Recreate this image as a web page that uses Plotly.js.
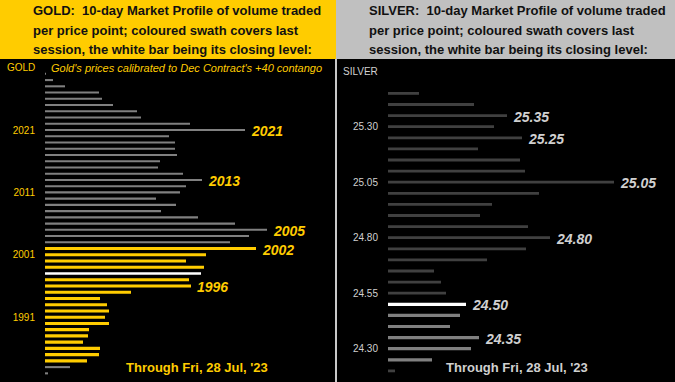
<!DOCTYPE html>
<html>
<head>
<meta charset="utf-8">
<script src="https://cdn.plot.ly/plotly-3.0.1.min.js"></script>
<style>html,body{margin:0;padding:0;background:#000;}#chart{width:675px;height:382px;}</style>
</head>
<body>
<div id="chart"></div>
<script>
// ---------- DATA ----------
const goldPrices = [2030,2029,2028,2027,2026,2025,2024,2023,2022,2021,2020,2019,2018,2017,2016,2015,2014,2013,2012,2011,2010,2009,2008,2007,2006,2005,2004,2003,2002,2001,2000,1999,1998,1997,1996,1995,1994,1993,1992,1991,1990,1989,1988,1987,1986,1985,1984,1983,1982];
const goldVolume = [1,8,20,54,57,68,92,96,145,200,124,130,130,132,115,113,138,157,141,135,111,131,116,153,190,222,204,185,211,161,141,159,156,144,146,86,55,62,64,60,64,44,43,38,55,54,42,25,3];
const goldSessionLow = 1984, goldSessionHigh = 2002, goldClose = 1998;
const goldLabelled = [2021,2013,2005,2002,1996];
const goldTicks = [1991,2001,2011,2021];

const silverPrices = [25.45,25.40,25.35,25.30,25.25,25.20,25.15,25.10,25.05,25.00,24.95,24.90,24.85,24.80,24.75,24.70,24.65,24.60,24.55,24.50,24.45,24.40,24.35,24.30,24.25,24.20];
const silverVolume = [31,86,119,106,134,90,132,137,226,151,104,92,140,162,138,99,46,53,58,78,72,62,91,83,44,7];
const silverSessionLow = 24.25, silverSessionHigh = 24.50, silverClose = 24.50;
const silverLabelled = [25.35,25.25,25.05,24.80,24.50,24.35];
const silverTicks = [24.30,24.55,24.80,25.05,25.30];

const goldTitle = ["GOLD:  10-day Market Profile of volume traded","per price point; coloured swath covers last","session, the white bar being its closing level:"];
const silverTitle = ["SILVER:  10-day Market Profile of volume traded","per price point; coloured swath covers last","session, the white bar being its closing level:"];
const goldNote = "Gold's prices calibrated to Dec Contract's +40 contango";
const throughText = "Through Fri, 28 Jul, '23";

// ---------- STYLE ----------
const W = 675, H = 382;
const px = x => x / W, py = y => 1 - y / H;
const YEL = '#FFCC00', GRY = '#C0C0C0', SIL_TXT = '#D0D0D0';
const near = (a, b) => Math.abs(a - b) < 1e-6;
const FONT = 'Arial, Liberation Sans, sans-serif';

const goldColors = goldPrices.map(p => near(p, goldClose) ? '#FFFFFF' : (p >= goldSessionLow && p <= goldSessionHigh ? YEL : '#808080'));
const goldWidths = goldPrices.map(p => near(p, goldClose) ? 0.4 : (p >= goldSessionLow && p <= goldSessionHigh ? 0.5 : 0.33));
const silverColors = silverPrices.map(p => near(p, silverClose) ? '#FFFFFF' : (p >= silverSessionLow - 1e-6 && p <= silverSessionHigh + 1e-6 ? '#808080' : '#404040'));
const silverWidths = silverPrices.map(p => (p >= silverSessionLow - 1e-6 && p <= silverSessionHigh + 1e-6) ? 0.0145 : 0.0125);

const traces = [
  {type:'bar', orientation:'h', y: goldPrices, x: goldVolume, xaxis:'x', yaxis:'y',
   marker:{color: goldColors, line:{width:0}}, width: goldWidths, hoverinfo:'skip'},
  {type:'bar', orientation:'h', y: silverPrices, x: silverVolume, xaxis:'x2', yaxis:'y2',
   marker:{color: silverColors, line:{width:0}}, width: silverWidths, hoverinfo:'skip'}
];

const yTop = 62, yBot = 379;
const axY = {showgrid:false, zeroline:false, showline:false, ticks:'', ticklabelstandoff: 9, fixedrange:true};
const axX = {visible:false, showgrid:false, zeroline:false, fixedrange:true};

const annotations = [];
const hdrFont = {family: FONT, size:13, color:'#111111'};
const lineY = [11, 30, 49];
goldTitle.forEach((t,i) => annotations.push({xref:'paper', yref:'paper', x:px(31), y:py(lineY[i]), xanchor:'left', yanchor:'middle', align:'left', text:'<b>'+t+'</b>', showarrow:false, font:hdrFont}));
silverTitle.forEach((t,i) => annotations.push({xref:'paper', yref:'paper', x:px(367), y:py(lineY[i]), xanchor:'left', yanchor:'middle', align:'left', text:'<b>'+t+'</b>', showarrow:false, font:hdrFont}));
annotations.push({xref:'paper', yref:'paper', x:px(5), y:py(68), xanchor:'left', yanchor:'middle', text:'GOLD', showarrow:false, font:{family:FONT, size:10, color:YEL}});
annotations.push({xref:'paper', yref:'paper', x:px(49), y:py(68), xanchor:'left', yanchor:'middle', text:'<i>'+goldNote+'</i>', showarrow:false, font:{family:FONT, size:11, color:YEL}});
annotations.push({xref:'paper', yref:'paper', x:px(341), y:py(71), xanchor:'left', yanchor:'middle', text:'SILVER', showarrow:false, font:{family:FONT, size:10, color:SIL_TXT}});
annotations.push({xref:'paper', yref:'paper', x:px(124), y:py(367), xanchor:'left', yanchor:'middle', text:'<b>'+throughText+'</b>', showarrow:false, font:{family:FONT, size:13, color:YEL}});
annotations.push({xref:'paper', yref:'paper', x:px(444), y:py(367), xanchor:'left', yanchor:'middle', text:'<b>'+throughText+'</b>', showarrow:false, font:{family:FONT, size:13, color:SIL_TXT}});

goldLabelled.forEach(p => {
  const i = goldPrices.indexOf(p);
  annotations.push({xref:'x', yref:'y', x: goldVolume[i], y: p, xanchor:'left', yanchor:'middle', xshift:4, yshift:-1,
    text:'<b><i>'+p+'</i></b>', showarrow:false,
    font:{family: FONT, size:14, color:YEL}});
});
silverLabelled.forEach(p => {
  const i = silverPrices.findIndex(q => near(q, p));
  annotations.push({xref:'x2', yref:'y2', x: silverVolume[i], y: p, xanchor:'left', yanchor:'middle', xshift:4, yshift:-1,
    text:'<b><i>'+p.toFixed(2)+'</i></b>', showarrow:false,
    font:{family: FONT, size:14, color:SIL_TXT}});
});

const shapes = [
  {type:'rect', xref:'paper', yref:'paper', x0:0, x1:px(336), y0:py(59), y1:1, fillcolor:YEL, line:{width:0}, layer:'below'},
  {type:'rect', xref:'paper', yref:'paper', x0:px(336), x1:1, y0:py(59), y1:1, fillcolor:GRY, line:{width:0}, layer:'below'},
  {type:'line', xref:'paper', yref:'paper', x0:px(336), x1:px(336), y0:0, y1:py(59), line:{color:'#C8C8C8', width:2}}
];

const goldTop = 2021 + (130 - yTop) / 6.24, goldBot = 2021 - (yBot - 130) / 6.24;
const silTop = 25.30 + (126.7 - yTop) / 222, silBot = 25.30 - (yBot - 126.7) / 222;

const layout = {
  width: W, height: H, margin:{l:0, r:0, t:0, b:0},
  paper_bgcolor:'#000', plot_bgcolor:'#000', showlegend:false,
  xaxis: Object.assign({}, axX, {domain:[px(45), px(335)], range:[0, 290], anchor:'y'}),
  yaxis: Object.assign({}, axY, {domain:[py(yBot), py(yTop)], range:[goldBot, goldTop], anchor:'x',
      tickvals: goldTicks, ticktext: goldTicks.map(String), tickfont:{family:FONT, size:10, color:YEL}}),
  xaxis2: Object.assign({}, axX, {domain:[px(388), px(670)], range:[0, 282], anchor:'y2'}),
  yaxis2: Object.assign({}, axY, {domain:[py(yBot), py(yTop)], range:[silBot, silTop], anchor:'x2',
      tickvals: silverTicks, ticktext: silverTicks.map(v => v.toFixed(2)), tickfont:{family:FONT, size:10, color:SIL_TXT}}),
  annotations: annotations, shapes: shapes
};

Plotly.newPlot('chart', traces, layout, {staticPlot:true, displayModeBar:false});
</script>
</body>
</html>
